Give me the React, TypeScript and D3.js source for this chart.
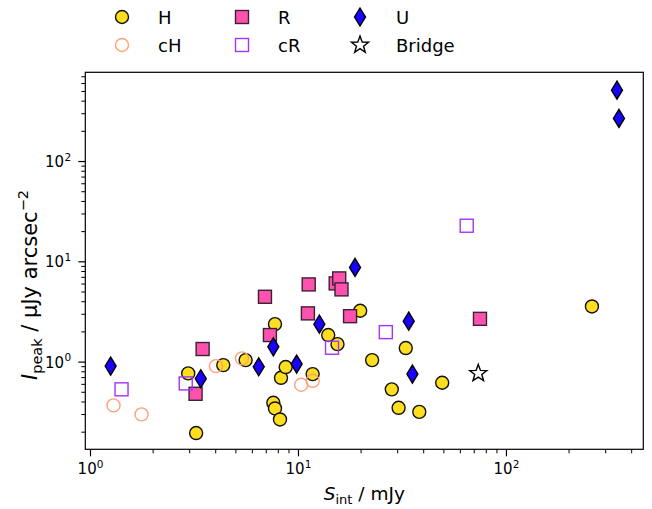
import React from "react";
import * as d3 from "d3";

// ---- Data (S_int in mJy, I_peak in µJy/arcsec^2) ----
const H_S = [3.22, 2.95, 4.35, 5.57, 7.71, 8.24, 7.57, 7.71, 8.15, 8.68, 11.7, 13.9, 15.4, 19.8, 22.6, 28.1, 30.3, 32.8, 38.1, 49.1, 257.7];
const H_I = [0.196, 0.771, 0.933, 1.047, 2.39, 0.697, 0.393, 0.345, 0.268, 0.892, 0.759, 1.86, 1.51, 3.25, 1.047, 0.535, 0.35, 1.38, 0.319, 0.622, 3.59];

const cH_S = [1.29, 1.76, 4.01, 5.35, 10.3, 11.7];
const cH_I = [0.37, 0.301, 0.912, 1.089, 0.594, 0.651];

const R_S = [3.46, 3.2, 6.9, 7.29, 11.2, 11.1, 15.1, 15.7, 16.1, 17.7, 74.6];
const R_I = [1.35, 0.483, 4.48, 1.86, 5.95, 3.06, 6.09, 6.83, 5.31, 2.87, 2.7];

const cR_S = [1.41, 2.87, 14.5, 26.3, 64.4];
const cR_I = [0.535, 0.613, 1.39, 1.99, 22.9];

const U_S = [1.25, 3.39, 6.44, 7.57, 9.8, 12.6, 18.7, 33.9, 35.3, 340, 347.5];
const U_I = [0.912, 0.682, 0.898, 1.42, 0.955, 2.39, 8.79, 2.56, 0.759, 515, 269];

const Bridge_S = [73.2];
const Bridge_I = [0.771];

const xMajor = [1, 10, 100];
const yMajor = [1, 10, 100];
const xMinor = [2, 3, 4, 5, 6, 7, 8, 9, 20, 30, 40, 50, 60, 70, 80, 90, 200, 300, 400];
const yMinor = [0.2, 0.3, 0.4, 0.5, 0.6, 0.7, 0.8, 0.9, 2, 3, 4, 5, 6, 7, 8, 9, 20, 30, 40, 50, 60, 70, 80, 90, 200, 300, 400, 500, 600, 700];

type Kind = "circle" | "square" | "diamond" | "star";
interface Series {
  name: string;
  xs: number[];
  ys: number[];
  kind: Kind;
  fill: string;
  stroke: string;
}

const series: Series[] = [
  { name: "H", xs: H_S, ys: H_I, kind: "circle", fill: "#FFDD1F", stroke: "#111" },
  { name: "cH", xs: cH_S, ys: cH_I, kind: "circle", fill: "none", stroke: "#FFA07A" },
  { name: "R", xs: R_S, ys: R_I, kind: "square", fill: "#FF52AE", stroke: "#3a2232" },
  { name: "cR", xs: cR_S, ys: cR_I, kind: "square", fill: "none", stroke: "#A333FF" },
  { name: "U", xs: U_S, ys: U_I, kind: "diamond", fill: "#1A00FF", stroke: "#000" },
  { name: "Bridge", xs: Bridge_S, ys: Bridge_I, kind: "star", fill: "#fff", stroke: "#000" },
];

const FONT = "DejaVu Sans, sans-serif";

function starPath(rOut: number, rIn: number): string {
  const pts: [number, number][] = [];
  for (let i = 0; i < 10; i++) {
    const r = i % 2 === 0 ? rOut : rIn;
    const a = -Math.PI / 2 + (i * Math.PI) / 5;
    pts.push([r * Math.cos(a), r * Math.sin(a)]);
  }
  return d3.line()(pts)! + "Z";
}

function Marker({ kind, fill, stroke, x, y }: { kind: Kind; fill: string; stroke: string; x: number; y: number }) {
  const sw = 1.4;
  if (kind === "circle") {
    return <circle cx={x} cy={y} r={6.5} fill={fill} stroke={stroke} strokeWidth={sw} />;
  }
  if (kind === "square") {
    return <rect x={x - 6.5} y={y - 6.5} width={13} height={13} fill={fill} stroke={stroke} strokeWidth={sw} />;
  }
  if (kind === "diamond") {
    const p = `M${x},${y - 9}L${x + 5.5},${y}L${x},${y + 9}L${x - 5.5},${y}Z`;
    return <path d={p} fill={fill} stroke={stroke} strokeWidth={sw} strokeLinejoin="miter" />;
  }
  return <path d={starPath(9, 3.7)} transform={`translate(${x},${y})`} fill={fill} stroke={stroke} strokeWidth={sw} strokeLinejoin="miter" />;
}

export default function App() {
  const W = 652;
  const H = 509;
  const left = 85.3, right = 643.3, top = 72.3, bottom = 449.3;

  const x = d3.scaleLog().domain([0.944, 455]).range([left, right]);
  const y = d3.scaleLog().domain([0.135, 776]).range([bottom, top]);

  const legendCols = [122, 242, 360];
  const legendRows = [17, 45];
  const legendOrder = [
    [0, 0, 0], // H
    [1, 0, 1], // cH
    [2, 1, 0], // R
    [3, 1, 1], // cR
    [4, 2, 0], // U
    [5, 2, 1], // Bridge
  ];

  return (
    <svg width={W} height={H} style={{ position: "absolute", left: 0, top: 0, background: "#fff" }} fontFamily={FONT}>
      <rect x={0} y={0} width={W} height={H} fill="#fff" />
      {/* data */}
      <g>
        {series.map((s) =>
          s.xs.map((v, i) => (
            <Marker key={s.name + i} kind={s.kind} fill={s.fill} stroke={s.stroke} x={x(v)} y={y(s.ys[i])} />
          ))
        )}
      </g>
      {/* spines */}
      <rect x={left} y={top} width={right - left} height={bottom - top} fill="none" stroke="#000" strokeWidth={1.2} />
      {/* x ticks */}
      {xMajor.map((t) => (
        <g key={"xM" + t}>
          <line x1={x(t)} x2={x(t)} y1={bottom} y2={bottom + 7} stroke="#000" strokeWidth={1.2} />
          <text x={x(t)} y={474} textAnchor="middle" fontSize={15}>
            10<tspan dy={-6.5} fontSize={10.5}>{Math.round(Math.log10(t))}</tspan>
          </text>
        </g>
      ))}
      {xMinor.map((t) => (
        <line key={"xm" + t} x1={x(t)} x2={x(t)} y1={bottom} y2={bottom + 4} stroke="#000" strokeWidth={1} />
      ))}
      {/* y ticks */}
      {yMajor.map((t) => (
        <g key={"yM" + t}>
          <line x1={left} x2={left - 7} y1={y(t)} y2={y(t)} stroke="#000" strokeWidth={1.2} />
          <text x={64} y={y(t) + 5.5} textAnchor="end" fontSize={15}>
            10
          </text>
          <text x={64.5} y={y(t) - 1} textAnchor="start" fontSize={10.5}>
            {Math.round(Math.log10(t))}
          </text>
        </g>
      ))}
      {yMinor.map((t) => (
        <line key={"ym" + t} x1={left} x2={left - 4} y1={y(t)} y2={y(t)} stroke="#000" strokeWidth={1} />
      ))}
      {/* axis labels */}
      <text x={(left + right) / 2} y={500} textAnchor="middle" fontSize={18.5}>
        <tspan fontStyle="italic">S</tspan>
        <tspan fontSize={13} dy={4}>int</tspan>
        <tspan dy={-4}> / mJy</tspan>
      </text>
      <text transform={`translate(37,${285}) rotate(-90)`} textAnchor="middle" fontSize={21}>
        <tspan fontStyle="italic">I</tspan>
        <tspan fontSize={14.5} dy={4.5}>peak</tspan>
        <tspan dy={-4.5}> / μJy arcsec</tspan>
        <tspan fontSize={14.5} dy={-9}>−2</tspan>
      </text>
      {/* legend */}
      {legendOrder.map(([si, c, r]) => {
        const s = series[si];
        return (
          <g key={"lg" + si}>
            <Marker kind={s.kind} fill={s.fill} stroke={s.stroke} x={legendCols[c]} y={legendRows[r]} />
            <text x={legendCols[c] + 36} y={legendRows[r] + 6.5} fontSize={18}>
              {s.name}
            </text>
          </g>
        );
      })}
    </svg>
  );
}
